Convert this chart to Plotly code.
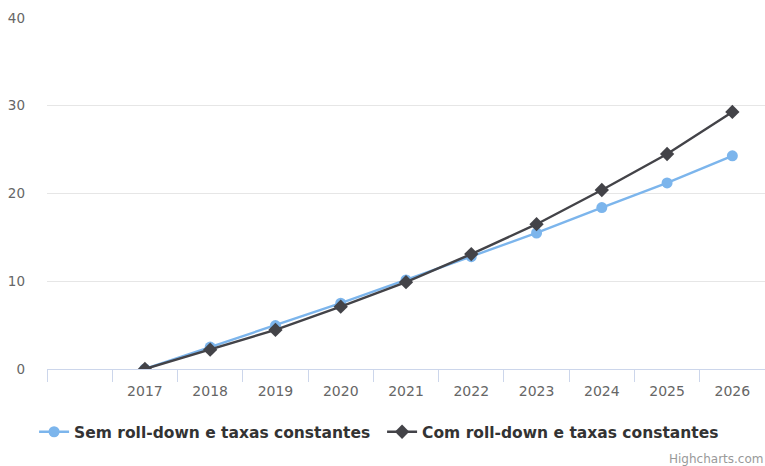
import plotly.graph_objects as go

years = ["2017", "2018", "2019", "2020", "2021", "2022", "2023", "2024", "2025", "2026"]
sem_values = [0.0, 2.5, 4.95, 7.5, 10.15, 12.8, 15.5, 18.4, 21.2, 24.3]
com_values = [0.0, 2.2, 4.45, 7.1, 9.9, 13.1, 16.5, 20.4, 24.5, 29.3]
sem_name = "Sem roll-down e taxas constantes"
com_name = "Com roll-down e taxas constantes"

xpos = list(range(1, len(years) + 1))

fig = go.Figure()
fig.add_trace(go.Scatter(
    x=xpos, y=sem_values, name=sem_name, mode="lines+markers",
    line=dict(color="#7cb5ec", width=2.4),
    marker=dict(symbol="circle", size=11, color="#7cb5ec"),
))
fig.add_trace(go.Scatter(
    x=xpos, y=com_values, name=com_name, mode="lines+markers",
    line=dict(color="#434348", width=2.4),
    marker=dict(symbol="diamond", size=11, color="#434348"),
))

fig.update_layout(
    width=765, height=466,
    margin=dict(l=47, r=0, t=18, b=97),
    paper_bgcolor="white", plot_bgcolor="white",
    font=dict(family="DejaVu Sans", color="#666666", size=14),
    showlegend=True,
    legend=dict(
        orientation="h", x=-0.018, xanchor="left", y=-0.18, yanchor="middle",
        font=dict(size=15.5, color="#333333", family="DejaVu Sans", weight="bold"),
        itemwidth=30, traceorder="normal",
        entrywidth=303, entrywidthmode="pixels",
    ),
    xaxis=dict(
        range=[-0.5, 10.5], tickvals=xpos, ticktext=years,
        showgrid=False, zeroline=False, ticks="",
        showline=True, linecolor="#ccd6eb", linewidth=1,
        tickfont=dict(size=14, color="#666666"),
        ticklabelstandoff=9,
        minor=dict(tick0=0.5, dtick=1, ticks="outside", ticklen=12,
                   tickcolor="#ccd6eb", showgrid=False),
    ),
    yaxis=dict(
        range=[0, 40], tickvals=[0, 10, 20, 30, 40],
        showgrid=True, gridcolor="#e6e6e6", zeroline=False,
        showline=False, ticks="", ticklabelstandoff=21,
        tickfont=dict(size=13.5, color="#666666"),
    ),
)

fig.add_annotation(
    text="Highcharts.com", xref="paper", yref="paper",
    x=1.0, y=-0.255, xanchor="right", yanchor="middle", showarrow=False,
    font=dict(size=12, color="#999999"),
)

fig.write_html("out.html")
